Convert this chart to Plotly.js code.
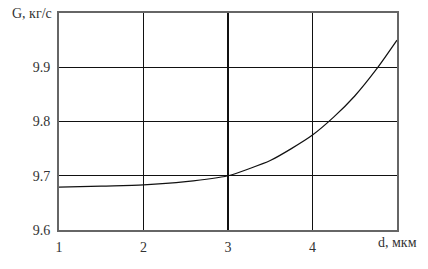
<!DOCTYPE html>
<html><head><meta charset="utf-8">
<script src="https://cdn.plot.ly/plotly-3.0.1.min.js"></script>
<style>html,body{margin:0;padding:0;background:#fff}</style>
</head><body>
<div id="chart" style="width:428px;height:269px"></div>
<script>
const dValues = [1, 1.5, 2, 2.5, 3, 3.25, 3.5, 3.75, 4, 4.25, 4.5, 4.75, 5];
const gValues = [9.679, 9.681, 9.683, 9.689, 9.700, 9.713, 9.728, 9.750, 9.775, 9.808, 9.847, 9.895, 9.950];
const xTicks = [1, 2, 3, 4];
const yTicks = [9.6, 9.7, 9.8, 9.9];
const yTickLabels = ['9.6', '9.7', '9.8', '9.9'];
const xTitle = 'd, мкм';
const yTitle = 'G, кг/с';

const font = {family: '"Liberation Serif", "DejaVu Serif", "Times New Roman", serif', size: 14, color: '#333'};
Plotly.newPlot('chart', [{
  x: dValues, y: gValues, type: 'scatter', mode: 'lines',
  line: {color: '#111', width: 1.2, shape: 'spline', smoothing: 0.8}
}], {
  width: 428, height: 269,
  margin: {l: 59, r: 31, t: 13, b: 39},
  paper_bgcolor: '#fff', plot_bgcolor: '#fff',
  showlegend: false,
  font: font,
  xaxis: {range: [1, 5], tickvals: xTicks, ticktext: xTicks.map(String),
    showgrid: true, gridcolor: '#111', gridwidth: 1.3,
    showline: true, linecolor: '#666', linewidth: 2, mirror: true,
    zeroline: false, ticks: '', ticklabelstandoff: 3, tickfont: font},
  yaxis: {range: [9.6, 10.0], tickvals: yTicks, ticktext: yTickLabels,
    showgrid: true, gridcolor: '#111', gridwidth: 1.3,
    showline: true, linecolor: '#666', linewidth: 2, mirror: true,
    zeroline: false, ticks: '', ticklabelstandoff: 4, tickfont: font},
  annotations: [
    {text: yTitle, xref: 'paper', yref: 'paper', x: 0, y: 1, xanchor: 'right', yanchor: 'middle', xshift: -5, showarrow: false, font: font},
    {text: xTitle, xref: 'paper', yref: 'paper', x: 1, y: 0, xanchor: 'center', yanchor: 'top', yshift: -3, showarrow: false, font: font}
  ]
}, {staticPlot: true});
</script>
</body></html>
